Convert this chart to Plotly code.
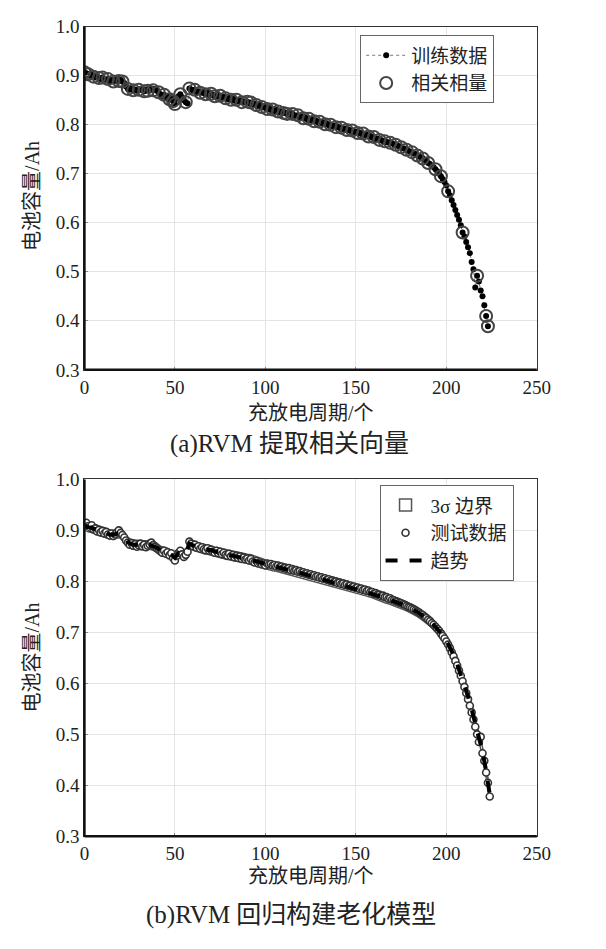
import plotly.graph_objects as go

# ---------------- data ----------------
# (a) training capacity, one value per charge/discharge cycle (0..223)
cap_train = [
    0.907, 0.905, 0.903, 0.900, 0.902, 0.898, 0.896, 0.899, 0.895, 0.893,
    0.896, 0.892, 0.890, 0.893, 0.889, 0.891, 0.888, 0.890, 0.892, 0.889,
    0.891, 0.888, 0.885,
    0.878, 0.873, 0.871, 0.874, 0.870, 0.872, 0.869, 0.871, 0.873, 0.870,
    0.868, 0.871, 0.869, 0.872, 0.874, 0.870, 0.873, 0.869,
    0.866, 0.862, 0.858, 0.861, 0.855, 0.858, 0.852, 0.856, 0.848, 0.842,
    0.853, 0.858, 0.862, 0.856, 0.850, 0.846, 0.843,
    0.874, 0.872, 0.869, 0.871, 0.866, 0.868, 0.865, 0.867, 0.864, 0.862,
    0.865, 0.861, 0.863, 0.860, 0.858, 0.861, 0.857, 0.859, 0.855, 0.857,
    0.854, 0.852, 0.855, 0.851, 0.853, 0.849, 0.851, 0.848, 0.850, 0.846,
    0.848, 0.845, 0.847, 0.843, 0.845, 0.841, 0.843, 0.840, 0.838, 0.840,
    0.836, 0.837, 0.834,
    0.832, 0.834, 0.830, 0.831, 0.828, 0.830, 0.827, 0.825, 0.827, 0.824,
    0.825, 0.822, 0.824, 0.820, 0.822, 0.819, 0.817, 0.819, 0.815, 0.817,
    0.813, 0.815, 0.811, 0.812, 0.809, 0.811, 0.807, 0.808, 0.805, 0.806,
    0.803, 0.805, 0.801, 0.802, 0.799, 0.800, 0.797, 0.798, 0.795, 0.796,
    0.793, 0.794, 0.791, 0.792, 0.789, 0.790, 0.787, 0.788, 0.785, 0.786,
    0.783, 0.784, 0.781, 0.782, 0.779, 0.780, 0.776, 0.777, 0.774, 0.775,
    0.771, 0.772, 0.769, 0.769, 0.766, 0.766, 0.764, 0.764, 0.763, 0.762,
    0.760, 0.759, 0.757, 0.756, 0.754, 0.752, 0.751, 0.749, 0.747, 0.745,
    0.744, 0.741, 0.740, 0.737, 0.735, 0.733, 0.731, 0.728, 0.726, 0.722,
    0.720, 0.716, 0.713, 0.709, 0.705, 0.700, 0.695, 0.689, 0.683, 0.676,
    0.664, 0.656, 0.646, 0.636, 0.626, 0.616, 0.606, 0.595, 0.580, 0.572,
    0.561, 0.550, 0.538, 0.520, 0.505, 0.468, 0.492, 0.480, 0.462, 0.450,
    0.432, 0.410, 0.389,
]

# (a) cycles that are relevance vectors (circled)
rv_cycles = [0, 2, 5, 8, 10, 13, 16, 19, 21, 24, 27, 30, 33, 35, 38, 41, 44,
             47, 49, 50, 53, 56, 58, 61, 64, 67, 70, 72, 75, 78, 81, 84, 87,
             90, 92, 95, 98, 101, 104, 107, 110, 112, 115, 118, 121, 124, 127,
             130, 133, 136, 139, 142, 145, 148, 151, 154, 157, 160, 163, 166,
             169, 172, 175, 178, 181, 184, 187, 190, 194, 197, 201, 209, 217,
             222, 223]

# (b) test capacity, one value per cycle (0..224)
cap_test = [
    0.912, 0.915, 0.908, 0.905, 0.910, 0.902, 0.904, 0.898, 0.901, 0.896,
    0.899, 0.894, 0.897, 0.892, 0.890, 0.894, 0.889, 0.892, 0.896, 0.900,
    0.895, 0.891, 0.886,
    0.880, 0.876, 0.872, 0.875, 0.870, 0.873, 0.868, 0.871, 0.874, 0.869,
    0.872, 0.867, 0.870, 0.873, 0.876, 0.871, 0.868, 0.865,
    0.862, 0.859, 0.856, 0.860, 0.854, 0.857, 0.851, 0.855, 0.846, 0.841,
    0.850, 0.856, 0.860, 0.853, 0.848, 0.852, 0.858,
    0.878, 0.874, 0.869, 0.872, 0.866, 0.869, 0.864, 0.867, 0.863, 0.861,
    0.865, 0.860, 0.862, 0.858, 0.856, 0.860, 0.855, 0.858, 0.853, 0.856,
    0.852, 0.850, 0.854, 0.849, 0.852, 0.847, 0.850, 0.846, 0.849, 0.844,
    0.847, 0.843, 0.845, 0.841, 0.844, 0.839, 0.837, 0.840, 0.835, 0.837,
    0.833, 0.835, 0.831,
    0.835, 0.833, 0.834, 0.831, 0.832, 0.829, 0.831, 0.828, 0.829, 0.826,
    0.827, 0.824, 0.826, 0.822, 0.824, 0.821, 0.822, 0.819, 0.820, 0.817,
    0.818, 0.815, 0.816, 0.813, 0.814, 0.811, 0.812, 0.809, 0.810, 0.807,
    0.808, 0.805, 0.806, 0.803, 0.804, 0.801, 0.802, 0.799, 0.800, 0.797,
    0.798, 0.795, 0.796, 0.793, 0.794, 0.791, 0.792, 0.789, 0.790, 0.787,
    0.788, 0.785, 0.786, 0.783, 0.784, 0.781, 0.782, 0.779, 0.779, 0.776,
    0.777, 0.774, 0.774, 0.771, 0.772, 0.769, 0.769, 0.766, 0.767, 0.764,
    0.763, 0.761, 0.760, 0.758, 0.757, 0.755, 0.754, 0.752, 0.750, 0.749,
    0.747, 0.745, 0.743, 0.741, 0.739, 0.736, 0.734, 0.731, 0.728, 0.725,
    0.722, 0.718, 0.715, 0.711, 0.707, 0.703, 0.698, 0.693, 0.688, 0.682,
    0.676, 0.669, 0.661, 0.653, 0.644, 0.635, 0.625, 0.615, 0.604, 0.593,
    0.581, 0.569, 0.556, 0.543, 0.529, 0.515, 0.500, 0.485, 0.495, 0.463,
    0.448, 0.425, 0.405, 0.378,
]

# (b) RVM trend, sampled every 2 cycles (0, 2, ..., 224)
trend = [
    0.910, 0.906, 0.905, 0.902, 0.899, 0.897, 0.895, 0.892, 0.891, 0.894,
    0.894, 0.887, 0.877, 0.873, 0.872, 0.871, 0.871, 0.870, 0.872, 0.870,
    0.866, 0.860, 0.858, 0.856, 0.852, 0.846, 0.856, 0.854, 0.853, 0.874,
    0.870, 0.868, 0.866, 0.863, 0.862, 0.861, 0.858, 0.857, 0.855, 0.853,
    0.852, 0.850, 0.849, 0.847, 0.846, 0.844, 0.843, 0.841, 0.838, 0.836,
    0.833, 0.832, 0.830, 0.829, 0.827, 0.825, 0.823, 0.822, 0.820, 0.818,
    0.816, 0.814, 0.812, 0.810, 0.808, 0.806, 0.804, 0.802, 0.800, 0.798,
    0.796, 0.794, 0.792, 0.790, 0.788, 0.786, 0.784, 0.782, 0.780, 0.778,
    0.775, 0.772, 0.770, 0.767, 0.765, 0.762, 0.760, 0.757, 0.754, 0.751,
    0.748, 0.744, 0.740, 0.735, 0.730, 0.724, 0.718, 0.711, 0.703, 0.694,
    0.684, 0.671, 0.656, 0.638, 0.618, 0.597, 0.574, 0.549, 0.522, 0.495,
    0.466, 0.428, 0.382,
]
trend_step = 2
sigma3 = 0.009  # half-width of the 3-sigma band

x_ticks = [0, 50, 100, 150, 200, 250]
y_ticks = [0.3, 0.4, 0.5, 0.6, 0.7, 0.8, 0.9, 1.0]

# ---------------- derived ----------------
cyc_train = list(range(len(cap_train)))
rv_vals = [cap_train[c] for c in rv_cycles]
cyc_test = list(range(len(cap_test)))
trend_cyc = [i * trend_step for i in range(len(trend))]
upper = [v + sigma3 for v in trend]
lower = [v - sigma3 for v in trend]

SERIF = "Liberation Serif, Noto Sans CJK SC, serif"
TXT = "#222222"

fig = go.Figure()

# ---- (a) ----
fig.add_trace(go.Scatter(
    x=cyc_train, y=cap_train, mode="lines+markers", name="训练数据",
    line=dict(color="#777777", width=1, dash="dot"),
    marker=dict(color="#000000", size=6),
    xaxis="x", yaxis="y", legend="legend"))
fig.add_trace(go.Scatter(
    x=rv_cycles, y=rv_vals, mode="markers", name="相关相量",
    marker=dict(symbol="circle-open", color="#444444", size=12,
                line=dict(width=2, color="#444444")),
    xaxis="x", yaxis="y", legend="legend"))

# ---- (b) ----
fig.add_trace(go.Scatter(
    x=trend_cyc + trend_cyc[::-1], y=upper + lower[::-1],
    mode="lines", fill="toself", fillcolor="white", name="3σ 边界",
    line=dict(color="#555555", width=1.5), showlegend=False,
    xaxis="x2", yaxis="y2"))
# legend entry for the band (rectangle symbol)
fig.add_trace(go.Bar(
    x=[None], y=[None], name="3σ 边界",
    marker=dict(color="white", line=dict(color="#555555", width=1.5)),
    xaxis="x2", yaxis="y2", legend="legend2"))
fig.add_trace(go.Scatter(
    x=cyc_test, y=cap_test, mode="markers", name="测试数据",
    marker=dict(symbol="circle", color="white", size=7,
                line=dict(width=1.6, color="#333333")),
    xaxis="x2", yaxis="y2", legend="legend2"))
fig.add_trace(go.Scatter(
    x=trend_cyc, y=trend, mode="lines", name="趋势",
    line=dict(color="#000000", width=4, dash="dash"),
    xaxis="x2", yaxis="y2", legend="legend2"))

W, H = 606, 949
xdom = [82 / W, 549 / W]
ydom_a = [1 - 368 / H, 1 - 17 / H]
ydom_b = [1 - 845 / H, 1 - 480 / H]

axis_common = dict(showgrid=True, gridcolor="#e4e4e4", gridwidth=1.3,
                   showline=True, mirror=True, linecolor="#333333", linewidth=1.3,
                   ticks="inside", ticklen=3, tickcolor="#888888",
                   tickfont=dict(family=SERIF, size=19, color=TXT),
                   zeroline=False)

fig.update_layout(
    width=W, height=H, margin=dict(l=0, r=0, t=0, b=0),
    paper_bgcolor="white", plot_bgcolor="white",
    xaxis=dict(domain=xdom, range=[0, 250], tickvals=x_ticks, anchor="y", **axis_common),
    yaxis=dict(domain=ydom_a, range=[0.3, 1.0], tickvals=y_ticks, tickformat=".1f",
               anchor="x", **axis_common),
    xaxis2=dict(domain=xdom, range=[0, 250], tickvals=x_ticks, anchor="y2", **axis_common),
    yaxis2=dict(domain=ydom_b, range=[0.3, 1.0], tickvals=y_ticks, tickformat=".1f",
                anchor="x2", **axis_common),
    legend=dict(x=505 / W, y=1 - 26 / H, xanchor="right", yanchor="top",
                bgcolor="white", bordercolor="#666666", borderwidth=1,
                font=dict(family=SERIF, size=19, color=TXT),
                tracegroupgap=0, itemwidth=40),
    legend2=dict(x=525 / W, y=1 - 486 / H, xanchor="right", yanchor="top",
                 bgcolor="white", bordercolor="#666666", borderwidth=1,
                 font=dict(family=SERIF, size=19, color=TXT),
                 tracegroupgap=0, itemwidth=40),
    showlegend=True,
)

# thicker left / bottom axis lines
for xr, yr in (("x", "y"), ("x2", "y2")):
    fig.add_shape(type="line", xref=f"{xr} domain", yref=f"{yr} domain",
                  x0=0, x1=0, y0=0, y1=1, line=dict(color="#111111", width=2.5))
    fig.add_shape(type="line", xref=f"{xr} domain", yref=f"{yr} domain",
                  x0=0, x1=1, y0=0, y1=0, line=dict(color="#111111", width=2.5))

def ann(text, px_x, px_y, size, angle=0):
    fig.add_annotation(text=text, x=px_x / W, y=1 - px_y / H, xref="paper", yref="paper",
                       showarrow=False, textangle=angle,
                       font=dict(family=SERIF, size=size, color=TXT),
                       xanchor="center", yanchor="middle")

ann("电池容量/Ah", 28, 190, 20, -90)
ann("充放电周期/个", 316, 412, 20)
ann("(a)RVM 提取相关向量", 294, 444, 25)
ann("电池容量/Ah", 28, 662, 20, -90)
ann("充放电周期/个", 316, 886, 20)
ann("(b)RVM 回归构建老化模型", 295, 925, 25)

fig.write_html("out.html")
